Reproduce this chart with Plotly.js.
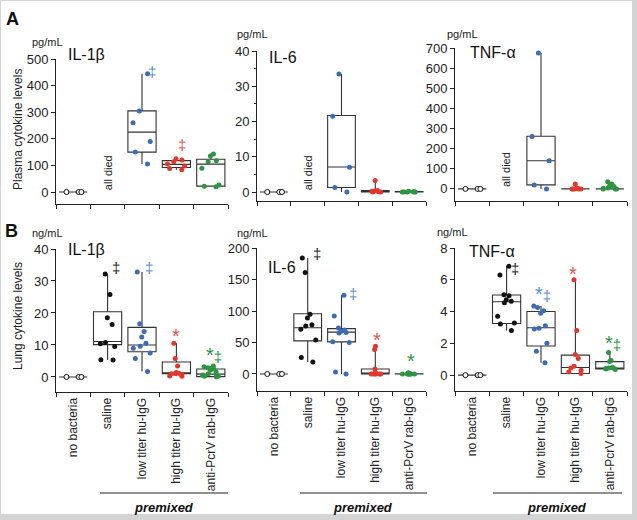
<!DOCTYPE html>
<html><head><meta charset="utf-8">
<script src="https://cdn.plot.ly/plotly-3.0.1.min.js"></script>
<style>html,body{margin:0;padding:0;background:#fff}</style>
</head><body><div id="chart" style="width:637px;height:520px"></div>
<script>
// ---------- DATA ----------
const categories = ['no bacteria','saline','low titer hu-IgG','high titer hu-IgG','anti-PcrV rab-IgG'];

// Plasma cytokines (pg/mL); stats = [lower whisker, q1, median, q3, upper whisker]
const plasmaIL1bPoints = [[0,0,0], [], [445,305,260,190,150,105], [125,120,114,105,98,88,84], [143,135,118,114,89,26,22,20]];
const plasmaIL1bStats  = [[0,0,0,0,0], null, [105,150,225,305,445], [84,92,104,118,125], [20,22,105,123,143]];
const plasmaIL1bSig    = ['', '', '‡', '‡', ''];

const plasmaIL6Points = [[0,0,0], [], [33.5,21.5,7,1.3,0], [3.3,0.4,0.3,0.2,0.1,0,0], [0.2,0.1,0,0,0,0,0]];
const plasmaIL6Stats  = [[0,0,0,0,0], null, [0,1.3,7.1,21.7,33.5], [0,0,0.2,0.4,3.3], [0,0,0,0.1,0.2]];
const plasmaIL6Sig    = ['', '', '', '', ''];

const plasmaTNFPoints = [[0,0,0], [], [675,260,140,20,0], [25,3,0,0,0,0,0], [35,25,15,12,5,3,0,0,0]];
const plasmaTNFStats  = [[0,0,0,0,0], null, [0,20,140,262,675], [0,0,0,0,25], [0,0,0,0,35]];
const plasmaTNFSig    = ['', '', '', '', ''];

// Lung cytokines (ng/mL)
const lungIL1bPoints = [[0,0,0], [32.2,25.8,18.5,16.4,10.8,10.4,9.5,5.4,5.3], [32.8,16.6,14.2,12.5,10.5,9.6,9.0,7.5,5.8,1.7], [10.5,5.8,3.4,1.4,1.2,1.1,1.0,0.8,0.3,0.2], [3.4,3.2,2.9,2.6,2.2,1.6,1.0,0.6,0.3,0.2,0.1]];
const lungIL1bStats  = [[0,0,0,0,0], [5.3,10.1,11.1,20.4,32.2], [1.7,7.9,10,15.5,32.8], [0.2,1.0,1.2,4.7,10.5], [0.1,0.1,0.9,2.5,3.4]];
const lungIL1bSig    = ['', '‡', '‡', '*', '*‡'];

const lungIL6Points = [[0,0,0], [184,161,95,89,78,76,71,54,26,19], [125,92,73,70,68,66,65,51,50,3,0], [44,39,8,2,1,0,0,0,0,0,0], [2,1,0.5,0,0,0,0,0,0,0]];
const lungIL6Stats  = [[0,0,0,0,0], [19,52.5,73.5,95.6,184], [0,51,66.5,72,125], [0,0,1,7.9,44], [0,0,0,0.5,2]];
const lungIL6Sig    = ['', '‡', '‡', '*', '*'];

const lungTNFPoints = [[0,0,0], [6.85,6.3,5.05,5.0,4.75,4.65,4.55,3.7,3.28,3.22,2.8], [4.35,4.25,4.05,3.9,3.1,2.95,2.9,2.0,1.5,0.78], [6.0,2.8,1.3,1.05,0.55,0.45,0.3,0.2,0.1], [1.42,0.92,0.85,0.5,0.45,0.42,0.4,0.38,0.36]];
const lungTNFStats  = [[0,0,0,0,0], [2.8,3.25,4.62,5.04,6.85], [0.78,1.83,2.98,4.0,4.35], [0.1,0.1,0.48,1.26,6.0], [0.36,0.38,0.45,0.85,1.42]];
const lungTNFSig    = ['', '‡', '*‡', '*', '*‡'];

const panelTitles = ['IL-1β','IL-6','TNF-α','IL-1β','IL-6','TNF-α'];
const panelUnits  = ['pg/mL','pg/mL','pg/mL','ng/mL','ng/mL','ng/mL'];
const yTickVals = [[0,100,200,300,400,500],[0,10,20,30,40],[0,100,200,300,400,500,600,700],[0,10,20,30,40],[0,50,100,150,200],[0,2,4,6,8]];

// ---------- STYLE / GEOMETRY ----------
const W = 637, H = 520;
const px = x => x / W, py = y => 1 - y / H;
const FONT = 'Arial, "Liberation Sans", Helvetica, sans-serif';
const groupColors = ['#ffffff', '#111111', '#3d6cb3', '#e0382f', '#2e9342'];
const sigColors   = ['#333333', '#222222', '#5a92d4', '#e8524b', '#2e9342'];
const xDomPx = [[56,228],[257,426],[455,627],[56,228],[257,426],[455,627]];
const yDomPx = [[59,204],[51,201],[48,201],[249,392],[248,391],[248,391]];
const yRanges = [[-45,500],[-2.55,40],[-60,700],[-4.7,40],[-27,200],[-1,8]];
const yMinor = [null, 5, null, null, null, null];
const titlePos = [[86,55],[283,57],[493,53],[86,249],[282,267],[492,251]];
const unitPos  = [[47,42],[252,34],[462,34],[47,233],[252,233],[452,232]];
// pixel offsets [dx, dy-up] of significance marks relative to the upper whisker end
const sigShift = [
  [null, null, [10,2], [6,14], null],
  [null, null, null, null, null],
  [null, null, null, null, null],
  [null, [8,6], [7,5], [0,7], [3,11]],
  [null, [9,5], [11,2], [2,6], [2,12]],
  [null, [8,-2], [2,12], [-2,6], [3,10]]
];

const panels = [
  [plasmaIL1bPoints, plasmaIL1bStats, plasmaIL1bSig],
  [plasmaIL6Points, plasmaIL6Stats, plasmaIL6Sig],
  [plasmaTNFPoints, plasmaTNFStats, plasmaTNFSig],
  [lungIL1bPoints, lungIL1bStats, lungIL1bSig],
  [lungIL6Points, lungIL6Stats, lungIL6Sig],
  [lungTNFPoints, lungTNFStats, lungTNFSig]
];

const traces = [];
const annotations = [];
const layout = {
  width: W, height: H, autosize: false,
  margin: {l:0, r:0, t:0, b:0, pad:0},
  paper_bgcolor: '#d4d4d4', plot_bgcolor: 'rgba(0,0,0,0)',
  showlegend: false, boxmode: 'overlay',
  font: {family: FONT, color: '#222'},
  shapes: [
    {type:'rect', xref:'paper', yref:'paper', x0:px(1), x1:px(632), y0:py(514), y1:py(1), fillcolor:'#ffffff', line:{width:0}, layer:'below'}
  ]
};
function paperText(x, y, text, size, extra) {
  return Object.assign({xref:'paper', yref:'paper', x:px(x), y:py(y), text:text, showarrow:false,
    xanchor:'center', yanchor:'middle', font:{size:size, family:FONT, color:'#222'}}, extra || {});
}
function sigMarkup(s) {
  return s.split('').map(c => c === '*' ? '<span style="font-size:20px">*</span>' : c).join('');
}

panels.forEach((p, i) => {
  const [pts, stats, sig] = p;
  const n = i ? String(i + 1) : '';
  const xa = 'x' + n, ya = 'y' + n;
  const idx = stats.map((s, k) => s ? k : -1).filter(k => k >= 0);
  traces.push({
    type: 'box', xaxis: xa, yaxis: ya,
    x: idx.map(k => categories[k]),
    lowerfence: idx.map(k => stats[k][0]),
    q1: idx.map(k => stats[k][1]),
    median: idx.map(k => stats[k][2]),
    q3: idx.map(k => stats[k][3]),
    upperfence: idx.map(k => stats[k][4]),
    boxpoints: false, width: 0.82, whiskerwidth: 0,
    line: {color: '#333', width: 1.1}, fillcolor: 'rgba(0,0,0,0)',
    hoverinfo: 'skip', showlegend: false
  });
  pts.forEach((vals, k) => {
    if (!vals.length) return;
    traces.push({
      type: 'box', xaxis: xa, yaxis: ya,
      x: vals.map(() => categories[k]), y: vals,
      boxpoints: 'all', jitter: 0.75, pointpos: 0, width: 0.82, whiskerwidth: 0,
      line: {width: 0, color: 'rgba(0,0,0,0)'}, fillcolor: 'rgba(0,0,0,0)',
      marker: k === 0 ? {color: '#ffffff', size: 5, line: {color: '#111', width: 1}}
                      : {color: groupColors[k], size: 5, line: {width: 0}},
      showlegend: false
    });
  });

  const bottom = i >= 3;
  layout['xaxis' + n] = {
    domain: [px(xDomPx[i][0]), px(xDomPx[i][1])], anchor: ya,
    type: 'category', categoryorder: 'array', categoryarray: categories,
    range: [-0.5, 4.5], tickson: 'boundaries', ticks: 'outside', ticklen: 4, tickcolor: '#222',
    showline: true, linecolor: '#222', linewidth: 1, showgrid: false, zeroline: false,
    showticklabels: bottom, tickangle: -90, tickfont: {size: 12, family: FONT, color: '#222'},
    fixedrange: true
  };
  const yax = {
    domain: [py(yDomPx[i][1]), py(yDomPx[i][0])], anchor: xa,
    range: yRanges[i], tickmode: 'array', tickvals: yTickVals[i],
    ticks: 'outside', ticklen: 4, tickcolor: '#222',
    showline: true, linecolor: '#222', linewidth: 1, showgrid: false, zeroline: false,
    tickfont: {size: 13, family: FONT, color: '#222'}, fixedrange: true
  };
  if (yMinor[i]) yax.minor = {dtick: yMinor[i], ticks: 'outside', ticklen: 2.5, tickcolor: '#222', showgrid: false};
  layout['yaxis' + n] = yax;

  annotations.push(paperText(titlePos[i][0], titlePos[i][1], panelTitles[i], 16, {font:{size:16, family:FONT, color:'#111'}}));
  annotations.push(paperText(unitPos[i][0], unitPos[i][1], panelUnits[i], 11));
  if (!bottom) {
    annotations.push({xref:xa, yref:ya, x:categories[1], y:0, text:'all died', textangle:-90, showarrow:false, font:{size:11, family:FONT, color:'#222'}, xanchor:'center', yanchor:'bottom'});
  }
  sig.forEach((s, k) => {
    if (!s || !stats[k]) return;
    const sh = sigShift[i][k] || [6, 6];
    annotations.push({xref:xa, yref:ya, x:categories[k], y:stats[k][4], text:sigMarkup(s), showarrow:false,
      font:{size:15, family:FONT, color:sigColors[k]}, xanchor:'center', yanchor:'middle',
      xshift: sh[0], yshift: sh[1]});
  });
});

// panel letters, y titles, "premixed"
annotations.push(paperText(13, 19, '<b>A</b>', 18, {font:{size:18, family:FONT, color:'#111'}}));
annotations.push(paperText(12, 231, '<b>B</b>', 18, {font:{size:18, family:FONT, color:'#111'}}));
annotations.push(paperText(18, 130, 'Plasma cytokine levels', 12, {textangle:-90}));
annotations.push(paperText(18, 316, 'Lung cytokine levels', 12, {textangle:-90}));
[[100,228,164],[300,427,363],[493,622,557]].forEach(([a,b,c]) => {
  layout.shapes.push({type:'line', xref:'paper', yref:'paper', x0:px(a), x1:px(b), y0:py(493), y1:py(493), line:{color:'#222', width:1.2}});
  annotations.push(paperText(c, 507, '<b><i>premixed</i></b>', 13, {font:{size:13, family:FONT, color:'#111'}}));
});
layout.annotations = annotations;

Plotly.newPlot('chart', traces, layout, {displayModeBar:false, staticPlot:true});
</script>
</body></html>
